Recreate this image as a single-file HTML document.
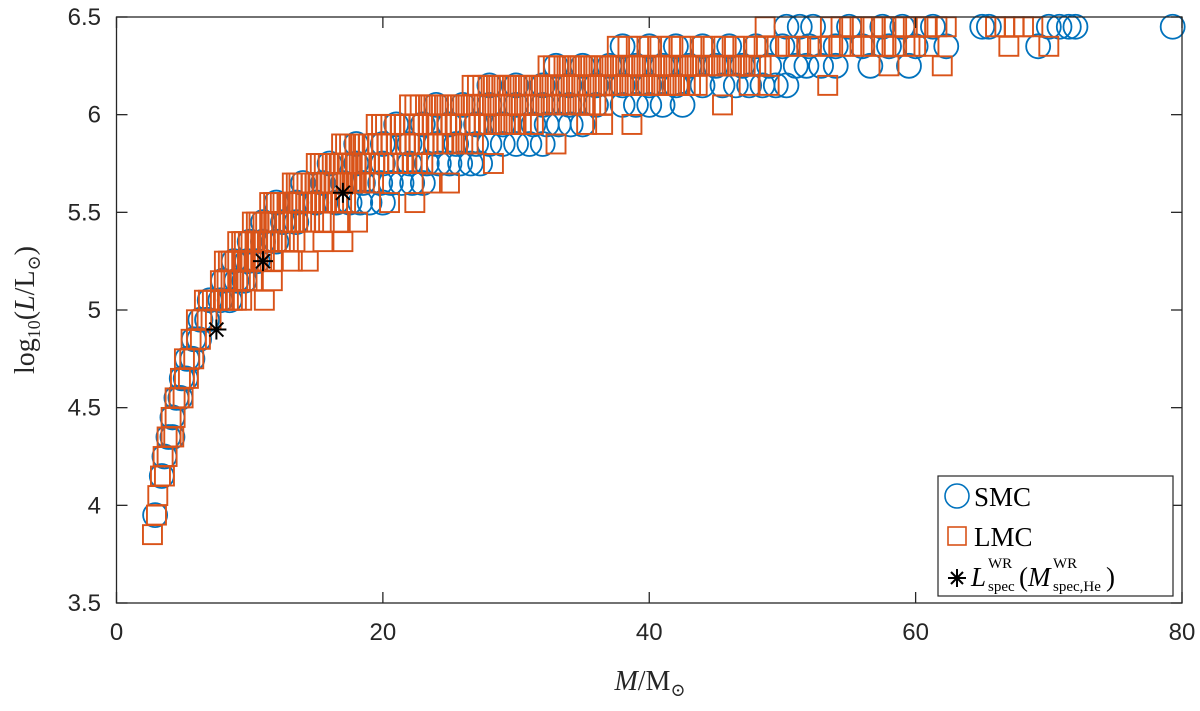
<!DOCTYPE html>
<html><head><meta charset="utf-8"><style>
body{margin:0;background:#fff}
svg text{font-family:"Liberation Sans",sans-serif}
.ser{font-family:"Liberation Serif","DejaVu Serif",serif}
</style></head><body>
<svg id="chart" width="1200" height="706" viewBox="0 0 1200 706" xmlns="http://www.w3.org/2000/svg">
<rect width="1200" height="706" fill="#fff"/>
<g id="marks"></g>
<g id="axes"></g>
<g>
<rect x="938" y="476" width="235" height="120" fill="#fff" stroke="#262626" stroke-width="1.2"/>
<circle cx="957" cy="496" r="12" fill="none" stroke="#0072BD" stroke-width="1.6"/>
<text class="ser" x="974" y="506" font-size="27" fill="#000">SMC</text>
<rect x="948" y="527" width="18" height="18" fill="none" stroke="#D95319" stroke-width="1.6"/>
<text class="ser" x="974" y="546" font-size="27" fill="#000">LMC</text>
<g stroke="#000" stroke-width="2">
<line x1="948" y1="578" x2="966" y2="578"/><line x1="957" y1="569" x2="957" y2="587"/>
<line x1="951" y1="572" x2="963" y2="584"/><line x1="951" y1="584" x2="963" y2="572"/>
</g>
<g class="ser" fill="#000">
<text class="ser" x="971" y="586" font-size="27" font-style="italic">L</text>
<text class="ser" x="988" y="568" font-size="15">WR</text>
<text class="ser" x="988" y="591" font-size="15">spec</text>
<text class="ser" x="1019" y="586" font-size="27">(</text>
<text class="ser" x="1028" y="586" font-size="27" font-style="italic">M</text>
<text class="ser" x="1053" y="568" font-size="15">WR</text>
<text class="ser" x="1053" y="591" font-size="15">spec,He</text>
<text class="ser" x="1106" y="586" font-size="27">)</text>
</g>
</g>
<text class="ser" font-size="28" fill="#262626" text-anchor="middle" transform="translate(34,310) rotate(-90)">log<tspan font-size="18" dy="6">10</tspan><tspan dy="-6">(</tspan><tspan font-style="italic">L</tspan>/L<tspan font-size="18" dy="6">⊙</tspan><tspan dy="-6">)</tspan></text>
<text class="ser" x="650" y="690" font-size="28" fill="#262626" text-anchor="middle"><tspan font-style="italic">M</tspan>/M<tspan font-size="18" dy="6">⊙</tspan></text>
</svg>
<script>
const xTicks=[0,20,40,60,80];
const yTicks=[3.5,4,4.5,5,5.5,6,6.5];
const yTickLabels=["3.5","4","4.5","5","5.5","6","6.5"];
const smcLevels=[3.95,4.15,4.25,4.35,4.45,4.55,4.65,4.75,4.85,4.95,5.05,5.15,5.25,5.35,5.45,5.55,5.65,5.75,5.85,5.95,6.05,6.15,6.25,6.35,6.45];
const smcMasses=[[2.9],[3.4],[3.6],[3.9,4.2],[4.2],[4.5,4.8],[4.9,5.2],[5.3,5.7],[5.8,6.2],[6.3,6.8],[7,7.8,8.5],[8,9,9.6],[8.8,9.8,10.6],[10,11,12],[11,12.5,13.5],
[12,13.5,15,16.5,17.5,18.3,19,20],[14,15.5,17,18.5,19.8,20.6,21.4,22.2,23],[16,18,20,22,23.3,24.2,25,25.8,26.6,27.3],[18,20,22,24,25.5,27,28,29,30,31,32],
[21,23,25,27,29,31.3,32.3,33.2,34.1,35],[24,26,28,30,32,34,36,38,39,40,41,42.5],[28,30,32,34,36,38,40,42,44,45.5,46.5,47.5,48.5,49.5,50.3],
[33,35,37,39,41,43,45,47,49,51,51.8,52.9,54,56.6,59.5],[38,40,42,44,46,48,50,52,54,56,58,60,62.3,69.2],[50.3,51.3,52.3,55,57.5,59,61.3,65,65.5,70,70.8,71.5,72,79.3]];
const lmcLevels=[3.85,3.95,4.05,4.15,4.25,4.35,4.45,4.55,4.65,4.75,4.85,4.95,5.05,5.15,5.25,5.35,5.45,5.55,5.65,5.75,5.85,5.95,6.05,6.15,6.25,6.35,6.45];
const lmcMasses=[[2.7],[3.0],[3.1],[3.3,3.6],[3.5,3.8],[3.8,4.1,4.3],[4.1,4.4],[4.4,4.7,5.0],[4.8,5.1,5.4],[5.1,5.5,5.8],[5.6,6.0,6.3],[6.0,6.4,6.8,7.1],
[6.6,6.9,7.2,7.5,7.8,8.1,8.4,8.7,9.0,9.4,11.1],[7.8,8.1,8.3,8.6,8.8,9.1,9.3,9.6,9.8,10.2,11.7],[8.1,8.4,8.6,8.9,9.1,9.4,9.6,9.9,10.1,10.4,10.6,10.9,11.1,11.7,13.2,14.4],
[9.1,9.4,9.6,9.9,10.1,10.4,10.6,10.9,11.1,11.4,11.7,12,12.3,12.6,12.9,13.4,15.5,17],
[10.2,10.5,10.7,11,11.2,11.5,11.8,12.1,12.4,12.7,13,13.3,13.6,13.9,14.2,14.5,14.8,15.6,16.8,18.1],
[11.5,11.8,12,12.3,12.5,12.8,13,13.3,13.6,13.9,14.2,14.5,14.8,15.1,15.4,15.7,16,16.3,16.6,16.9,17.2,20.5,22.4],
[13.2,13.5,13.7,14,14.3,14.6,14.9,15.2,15.5,15.8,16.1,16.4,16.7,17,17.3,17.7,18,18.3,18.6,19,19.3,23.7,25],
[15,15.3,15.6,15.9,16.2,16.5,16.8,17.1,17.4,17.7,18,18.4,18.7,19,19.4,19.7,20.1,20.4,20.8,21.1,21.5,21.8,22.2,22.6,23,28.3],
[16.9,17.2,17.5,17.9,18.2,18.5,18.9,19.2,19.6,19.9,20.3,20.6,21,21.3,21.7,22,22.4,22.7,23.1,23.4,23.8,24.1,24.5,24.8,25.2,25.6,26,26.4,26.8,33],
[19.5,19.9,20.2,20.6,20.9,21.3,21.6,22,22.3,22.7,23,23.4,23.7,24,24.4,24.8,25.1,25.5,25.8,26.2,26.5,26.9,27.2,27.6,28,28.4,28.8,29.2,29.6,30,30.4,30.9,31.3,35.3,36.5,38.7],
[22,22.4,22.8,23.2,23.6,24,24.4,24.8,25.2,25.6,26,26.4,26.8,27.2,27.6,28,28.4,28.8,29.2,29.6,30,30.4,30.8,31.2,31.6,32,32.4,32.8,33.2,33.6,34,34.4,34.8,35.2,35.6,36,36.5,45.5],
[26.7,27.1,27.5,27.9,28.3,28.7,29.1,29.5,29.9,30.3,30.7,31.1,31.5,31.9,32.3,32.7,33.1,33.5,33.9,34.3,34.7,35.1,35.5,35.9,36.3,36.7,37.1,37.5,37.9,38.3,38.7,39.1,39.5,39.9,40.3,40.7,41.1,41.5,41.9,42.3,42.7,43.1,43.6,47.5,49,53.4],
[32.4,32.8,33.2,33.6,34,34.4,34.8,35.2,35.6,36,36.4,36.8,37.2,37.6,38,38.4,38.8,39.2,39.6,40,40.4,40.8,41.2,41.6,42,42.4,42.8,43.2,43.6,44,44.4,44.8,45.2,45.6,46,46.4,46.8,47.2,47.6,48,48.4,58,62],
[37.6,38.4,39.2,40,40.8,41.6,42.4,43.2,44,44.8,45.6,46.4,47.2,48,48.8,49.6,50.4,51.2,52,52.8,53.6,54.4,55.2,56,56.8,57.6,58.4,59.2,60,61,67,70],
[48.7,53.6,54.4,55.2,56,56.8,57.6,58.4,59.2,60,60.8,61.6,62.3,66,66.7,67.4,68.1,68.8]];
const starMasses=[7.5,11,17];
const starLums=[4.9,5.25,5.6];

const X0=116.5,X1=1182,Y0=603,Y1=17;
function xs(m){return X0+(m-0)/(80-0)*(X1-X0);}
function ys(l){return Y0-(l-3.5)/(6.5-3.5)*(Y0-Y1);}
const NS="http://www.w3.org/2000/svg";
const marks=document.getElementById('marks');
const axes=document.getElementById('axes');
function mk(tag,attrs,parent){const e=document.createElementNS(NS,tag);for(const k in attrs)e.setAttribute(k,attrs[k]);parent.appendChild(e);return e;}

smcLevels.forEach((L,i)=>{smcMasses[i].forEach(m=>{
  const c=mk('circle',{cx:xs(m),cy:ys(L),r:12,fill:'none',stroke:'#0072BD','stroke-width':1.8},marks);
  
  
});});
lmcLevels.forEach((L,i)=>{lmcMasses[i].forEach(m=>{
  const r=mk('rect',{x:xs(m)-9.5,y:ys(L)-9.5,width:19,height:19,fill:'none',stroke:'#D95319','stroke-width':1.9},marks);
  
  
});});
starMasses.forEach((m,i)=>{
  const g=mk('g',{stroke:'#000','stroke-width':2},marks);
  
  
  const cx=xs(m),cy=ys(starLums[i]),s=10;
  mk('line',{x1:cx-s,y1:cy,x2:cx+s,y2:cy},g);
  mk('line',{x1:cx,y1:cy-s,x2:cx,y2:cy+s},g);
  mk('line',{x1:cx-7,y1:cy-7,x2:cx+7,y2:cy+7},g);
  mk('line',{x1:cx-7,y1:cy+7,x2:cx+7,y2:cy-7},g);
});

const frame=mk('rect',{x:X0,y:Y1,width:X1-X0,height:Y0-Y1,fill:'none',stroke:'#262626','stroke-width':1.3},axes);


xTicks.forEach(v=>{
  const x=xs(v);
  mk('line',{x1:x,y1:Y0,x2:x,y2:Y0-11,stroke:'#262626','stroke-width':1.3},axes);
  mk('line',{x1:x,y1:Y1,x2:x,y2:Y1+11,stroke:'#262626','stroke-width':1.3},axes);
  const t=mk('text',{x:x,y:640,'font-size':24,fill:'#262626','text-anchor':'middle'},axes);
  t.textContent=String(v);
  
  
});
yTicks.forEach((v,i)=>{
  const y=ys(v);
  mk('line',{x1:X0,y1:y,x2:X0+11,y2:y,stroke:'#262626','stroke-width':1.3},axes);
  mk('line',{x1:X1,y1:y,x2:X1-11,y2:y,stroke:'#262626','stroke-width':1.3},axes);
  const t=mk('text',{x:101,y:y+8,'font-size':24,fill:'#262626','text-anchor':'end'},axes);
  t.textContent=yTickLabels[i];
  
  
});
</script>
</body></html>
